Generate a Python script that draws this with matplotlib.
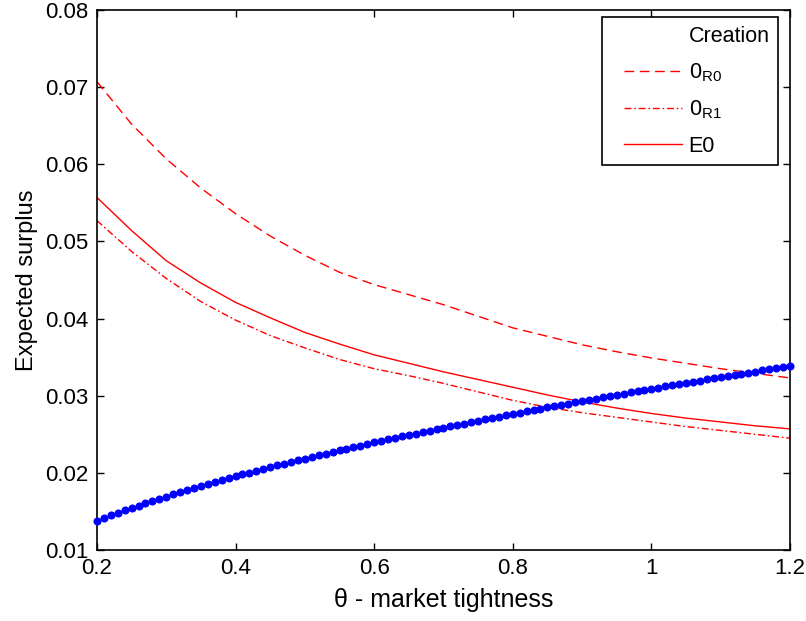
import numpy as np
import matplotlib
matplotlib.use("Agg")
import matplotlib.pyplot as plt
from matplotlib.legend_handler import HandlerLine2D

plt.rcParams['font.family'] = ['Liberation Sans', 'DejaVu Sans']
plt.rcParams['mathtext.fontset'] = 'custom'
plt.rcParams['mathtext.rm'] = 'Liberation Sans'
plt.rcParams['mathtext.default'] = 'regular'

# Red curves, sampled every 0.05
theta_red = [0.20, 0.25, 0.30, 0.35, 0.40, 0.45, 0.50, 0.55, 0.60, 0.65, 0.70,
             0.75, 0.80, 0.85, 0.90, 0.95, 1.00, 1.05, 1.10, 1.15, 1.20]
surplus_R0 = [0.0707, 0.0652, 0.0607, 0.0569, 0.0536, 0.0507, 0.0482, 0.0460, 0.0444, 0.0431, 0.0418,
              0.0403, 0.0388, 0.0377, 0.0366, 0.0357, 0.0349, 0.0342, 0.0335, 0.0329, 0.0323]
surplus_R1 = [0.0527, 0.0487, 0.0452, 0.0422, 0.0398, 0.0378, 0.0362, 0.0347, 0.0335, 0.0326, 0.0316,
              0.0305, 0.0294, 0.0285, 0.0278, 0.0272, 0.0266, 0.0260, 0.0255, 0.0250, 0.0245]
surplus_E0 = [0.0557, 0.0514, 0.0475, 0.0446, 0.0421, 0.0401, 0.0382, 0.0367, 0.0353, 0.0342, 0.0331,
              0.0321, 0.0311, 0.0301, 0.0292, 0.0284, 0.0277, 0.0271, 0.0266, 0.0261, 0.0257]

# Blue dotted series, sampled every 0.01
theta_blue = [round(0.20 + 0.01 * i, 2) for i in range(101)]
surplus_blue = [
    0.01382, 0.01416, 0.01449, 0.01482, 0.01514, 0.01545, 0.01576, 0.01606, 0.01635, 0.01664,
    0.01692, 0.01720, 0.01748, 0.01775, 0.01802, 0.01828, 0.01854, 0.01880, 0.01905, 0.01930,
    0.01954, 0.01979, 0.02003, 0.02026, 0.02050, 0.02073, 0.02096, 0.02118, 0.02141, 0.02163,
    0.02185, 0.02207, 0.02228, 0.02250, 0.02271, 0.02292, 0.02312, 0.02333, 0.02353, 0.02373,
    0.02394, 0.02413, 0.02433, 0.02453, 0.02472, 0.02491, 0.02510, 0.02529, 0.02548, 0.02567,
    0.02585, 0.02604, 0.02622, 0.02640, 0.02658, 0.02676, 0.02694, 0.02711, 0.02729, 0.02746,
    0.02764, 0.02781, 0.02798, 0.02815, 0.02832, 0.02849, 0.02866, 0.02882, 0.02899, 0.02915,
    0.02931, 0.02948, 0.02964, 0.02980, 0.02996, 0.03012, 0.03028, 0.03043, 0.03059, 0.03075,
    0.03090, 0.03105, 0.03121, 0.03136, 0.03151, 0.03166, 0.03181, 0.03196, 0.03211, 0.03226,
    0.03241, 0.03256, 0.03270, 0.03285, 0.03299, 0.03314, 0.03328, 0.03342, 0.03357, 0.03371,
    0.03385]

x_ticks = [0.2, 0.4, 0.6, 0.8, 1.0, 1.2]
x_ticklabels = ['0.2', '0.4', '0.6', '0.8', '1', '1.2']
y_ticks = [0.01, 0.02, 0.03, 0.04, 0.05, 0.06, 0.07, 0.08]
y_ticklabels = ['0.01', '0.02', '0.03', '0.04', '0.05', '0.06', '0.07', '0.08']


class ShiftedLine(HandlerLine2D):
    def create_artists(self, legend, orig_handle, xdescent, ydescent, width, height,
                       fontsize, trans):
        off = 0.6 * fontsize
        return super().create_artists(legend, orig_handle, xdescent - off, ydescent,
                                      width - off, height, fontsize, trans)


fig = plt.figure(figsize=(8.06, 6.21), dpi=100)
ax = fig.add_axes([0.1203, 0.1143, 0.9801 - 0.1203, 0.9839 - 0.1143])

ax.plot([], [], color='none', label='Creation')
ax.plot(theta_red, surplus_R0, color='red', lw=1.0, dashes=(7, 4), label=r'0$_{R0}$')
ax.plot(theta_red, surplus_R1, color='red', lw=1.0, dashes=(5, 2, 1.2, 2), label=r'0$_{R1}$')
ax.plot(theta_red, surplus_E0, color='red', lw=1.0, label='E0')
ax.plot(theta_blue, surplus_blue, linestyle='none', marker='o', markersize=4.8,
        color='blue', markeredgecolor='blue', clip_on=False, zorder=5)

ax.set_xlim(0.2, 1.2)
ax.set_ylim(0.01, 0.08)
ax.set_xticks(x_ticks)
ax.set_xticklabels(x_ticklabels)
ax.set_yticks(y_ticks)
ax.set_yticklabels(y_ticklabels)
ax.tick_params(direction='in', top=True, right=True, length=5, width=1,
               labelsize=16, pad=6)
for s in ax.spines.values():
    s.set_linewidth(1.2)

ax.set_xlabel('θ - market tightness', fontsize=18, labelpad=6)
ax.set_ylabel('Expected surplus', fontsize=17, labelpad=5)

leg = ax.legend(loc='upper right', bbox_to_anchor=(0.983, 0.987), fontsize=15.5,
                fancybox=False, edgecolor='black', framealpha=1,
                handlelength=3.3, handletextpad=0.3, borderpad=0.4, labelspacing=0.68,
                borderaxespad=0, handler_map={matplotlib.lines.Line2D: ShiftedLine()})
leg.get_frame().set_linewidth(1.2)

fig.savefig('out.png', dpi=100)
